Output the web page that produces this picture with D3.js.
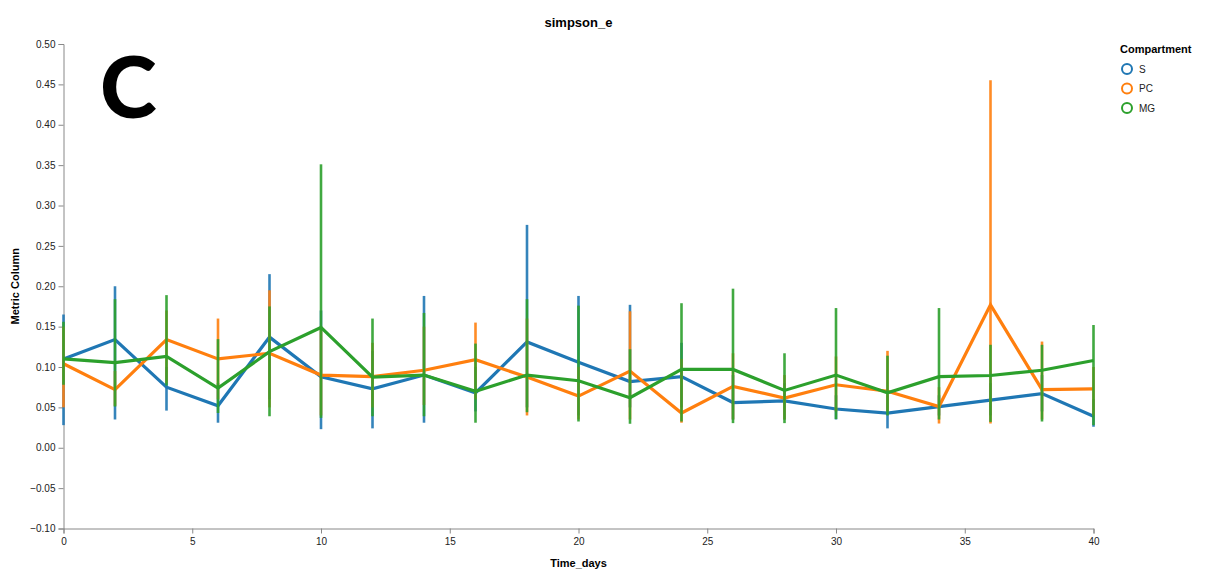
<!DOCTYPE html>
<html>
<head>
<meta charset="utf-8">
<script src="https://cdn.jsdelivr.net/npm/d3@7"></script>
<style>
  html, body { margin: 0; padding: 0; background: #fff; }
  svg { display: block; font-family: "Liberation Sans", Arial, sans-serif; }
</style>
</head>
<body>
<svg id="chart" width="1221" height="574"></svg>
<script>
// ---- data ----
const days = [0,2,4,6,8,10,12,14,16,18,20,22,24,26,28,30,32,34,36,38,40];
const compartments = ["S", "PC", "MG"];
const colors = ["#1f77b4", "#ff7f0e", "#2ca02c"];

const meanS  = [0.110,0.134,0.075,0.052,0.137,0.088,0.073,0.090,0.068,0.131,0.106,0.082,0.088,0.056,0.058,0.048,0.043,0.051,0.059,0.067,0.039];
const lowS   = [0.028,0.035,0.046,0.031,0.060,0.023,0.024,0.031,0.045,0.050,0.040,0.050,0.050,0.035,0.035,0.035,0.024,0.040,0.040,0.045,0.026];
const highS  = [0.165,0.200,0.100,0.080,0.215,0.170,0.120,0.188,0.100,0.276,0.188,0.177,0.130,0.090,0.080,0.065,0.065,0.065,0.080,0.090,0.060];

const meanPC = [0.104,0.072,0.134,0.110,0.117,0.090,0.088,0.096,0.109,0.0875,0.064,0.095,0.043,0.076,0.0615,0.078,0.070,0.051,0.177,0.072,0.073];
const lowPC  = [0.050,0.052,0.080,0.060,0.050,0.040,0.050,0.053,0.060,0.040,0.035,0.035,0.031,0.035,0.035,0.045,0.045,0.030,0.030,0.035,0.040];
const highPC = [0.150,0.095,0.170,0.160,0.195,0.150,0.130,0.150,0.155,0.160,0.100,0.169,0.110,0.117,0.090,0.113,0.120,0.075,0.455,0.1315,0.100];

const meanMG = [0.110,0.1055,0.113,0.074,0.119,0.149,0.0875,0.090,0.070,0.090,0.083,0.062,0.097,0.097,0.071,0.090,0.068,0.088,0.0895,0.096,0.108];
const lowMG  = [0.078,0.051,0.077,0.043,0.039,0.037,0.039,0.039,0.031,0.044,0.0325,0.0297,0.0325,0.0305,0.0305,0.0355,0.040,0.035,0.032,0.0325,0.028];
const highMG = [0.156,0.184,0.189,0.1345,0.175,0.351,0.160,0.167,0.129,0.184,0.176,0.122,0.179,0.197,0.117,0.173,0.114,0.173,0.1275,0.1275,0.152];

const xTicks = [0,5,10,15,20,25,30,35,40];
const yTicks = [-0.10,-0.05,0.00,0.05,0.10,0.15,0.20,0.25,0.30,0.35,0.40,0.45,0.50];

const series = [
  {name: "S",  mean: meanS,  low: lowS,  high: highS},
  {name: "PC", mean: meanPC, low: lowPC, high: highPC},
  {name: "MG", mean: meanMG, low: lowMG, high: highMG}
];

// ---- layout ----
const svg = d3.select("#chart");
const plotL = 63.5, plotR = 1093.5, plotT = 44, plotB = 528.5;

const x = d3.scaleLinear().domain([0, 40]).range([plotL, plotR]);
const y = d3.scaleLinear().domain([-0.10, 0.50]).range([plotB, plotT]);
const color = d3.scaleOrdinal().domain(compartments).range(colors);

// axes
const xAxis = svg.append("g")
  .attr("transform", `translate(0,${plotB})`)
  .call(d3.axisBottom(x).tickValues(xTicks).tickSize(5).tickPadding(4).tickFormat(d3.format("d")));
const yAxis = svg.append("g")
  .attr("transform", `translate(${plotL},0)`)
  .call(d3.axisLeft(y).tickValues(yTicks).tickSize(5).tickPadding(3).tickFormat(d3.format(".2f")));
[xAxis, yAxis].forEach(a => {
  a.selectAll("path, line").attr("stroke", "#888").attr("stroke-width", 1);
  a.selectAll("text").attr("fill", "#222").style("font-size", "10px")
    .style("font-family", "'Liberation Sans', Arial, sans-serif");
});

// axis titles
svg.append("text").attr("x", (plotL + plotR) / 2).attr("y", 567)
  .attr("text-anchor", "middle").style("font-size", "11px").style("font-weight", "bold")
  .text("Time_days");
svg.append("text")
  .attr("transform", `translate(19,${(plotT + plotB) / 2}) rotate(-90)`)
  .attr("text-anchor", "middle").style("font-size", "11px").style("font-weight", "bold")
  .text("Metric Column");

// title
svg.append("text").attr("x", (plotL + plotR) / 2).attr("y", 27)
  .attr("text-anchor", "middle").style("font-size", "13px").style("font-weight", "bold")
  .text("simpson_e");

// panel letter
svg.append("text").attr("x", 100).attr("y", 118)
  .style("font-family", "Lato, 'Open Sans', sans-serif")
  .style("font-size", "86px").style("font-weight", "900")
  .attr("fill", "#000").text("C");

// marks
const line = d3.line().x(d => x(d.day)).y(d => y(d.mean));
const marks = svg.append("g");
series.forEach(s => {
  const pts = days.map((d, i) => ({day: d, mean: s.mean[i], low: s.low[i], high: s.high[i]}));
  const g = marks.append("g");
  g.selectAll("line.err").data(pts).join("line")
    .attr("class", "err")
    .attr("x1", d => x(d.day)).attr("x2", d => x(d.day))
    .attr("y1", d => y(d.low)).attr("y2", d => y(d.high))
    .attr("stroke", color(s.name)).attr("stroke-width", 2.6).attr("stroke-opacity", 0.9);
  g.append("path").datum(pts)
    .attr("d", line).attr("fill", "none")
    .attr("stroke", color(s.name)).attr("stroke-width", 3.2)
    .attr("stroke-linejoin", "miter");
});

// legend
const legend = svg.append("g");
legend.append("text").attr("x", 1120).attr("y", 53)
  .style("font-size", "11px").style("font-weight", "bold").text("Compartment");
compartments.forEach((c, i) => {
  const yy = 69 + i * 19.5;
  legend.append("circle").attr("cx", 1127).attr("cy", yy).attr("r", 5)
    .attr("fill", "none").attr("stroke", color(c)).attr("stroke-width", 2);
  legend.append("text").attr("x", 1139).attr("y", yy + 3.5)
    .style("font-size", "10px").attr("fill", "#222").text(c);
});
</script>
</body>
</html>
